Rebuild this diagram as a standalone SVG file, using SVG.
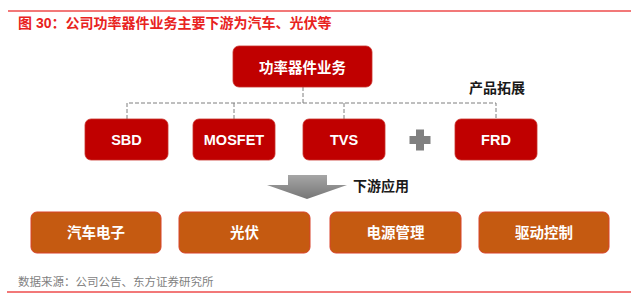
<svg xmlns="http://www.w3.org/2000/svg" width="640" height="306" viewBox="0 0 640 306">
<defs>
<style>
.title{font-family:"Liberation Sans","Noto Sans CJK SC",sans-serif;font-size:14px;font-weight:bold;fill:#e8231e}
.src{font-family:"Noto Sans CJK SC",sans-serif;font-size:11.5px;fill:#7f7f7f}
.red rect{fill:#c00000;stroke:#c8302a;stroke-width:0.8}
.org rect{fill:#c55a11;stroke:#d8432a;stroke-width:1}
.lbl{font-family:"Liberation Sans","Noto Sans CJK SC",sans-serif;font-size:14.5px;font-weight:bold;fill:#ffffff;text-anchor:middle}
.blk{font-family:"Noto Sans CJK SC",sans-serif;font-size:14px;font-weight:bold;fill:#1a1a1a}
.dash{fill:none;stroke:#7f7f7f;stroke-width:1;stroke-dasharray:4 2}
</style>
<linearGradient id="ag" x1="0" y1="0" x2="0" y2="1">
<stop offset="0" stop-color="#a6a6a6"/>
<stop offset="1" stop-color="#767676"/>
</linearGradient>
</defs>
<rect width="640" height="306" fill="#ffffff"/>
<line x1="8" y1="11" x2="631" y2="11" stroke="#ee4b4b" stroke-width="1.6"/>
<text class="title" x="18" y="28">图 30：公司功率器件业务主要下游为汽车、光伏等</text>

<g id="connectors">
<polyline class="dash" points="303,87 303,103"/>
<polyline class="dash" points="127,119 127,103 496,103 496,119"/>
<line class="dash" x1="234" y1="103" x2="234" y2="119"/>
<line class="dash" x1="344" y1="103" x2="344" y2="119"/>
</g>

<g id="root" class="red">
<rect x="233" y="46" width="139" height="41" rx="6"/>
<text class="lbl" x="302.5" y="72.5">功率器件业务</text>
</g>
<g id="sbd" class="red">
<rect x="85" y="119" width="83" height="41" rx="6"/>
<text class="lbl" x="126.5" y="145">SBD</text>
</g>
<g id="mosfet" class="red">
<rect x="193" y="119" width="82" height="41" rx="6"/>
<text class="lbl" x="234" y="145">MOSFET</text>
</g>
<g id="tvs" class="red">
<rect x="303" y="119" width="82" height="41" rx="6"/>
<text class="lbl" x="344" y="145">TVS</text>
</g>
<g id="plus" fill="#808080">
<rect x="409.5" y="136" width="21" height="8"/>
<rect x="416" y="129.5" width="8" height="21"/>
</g>
<g id="frd" class="red">
<rect x="455" y="119" width="82" height="41" rx="6"/>
<text class="lbl" x="496" y="145">FRD</text>
</g>
<g id="expand">
<text class="blk" x="497" y="93" text-anchor="middle">产品拓展</text>
</g>

<g id="arrow">
<polygon points="288,175 327,175 327,185 347,185 307,199 267,185 288,185" fill="url(#ag)"/>
<text class="blk" x="353" y="191">下游应用</text>
</g>

<g id="auto" class="org">
<rect x="31" y="212" width="130" height="41" rx="6"/>
<text class="lbl" x="96" y="238">汽车电子</text>
</g>
<g id="pv" class="org">
<rect x="179" y="212" width="131" height="41" rx="6"/>
<text class="lbl" x="244.5" y="238">光伏</text>
</g>
<g id="power" class="org">
<rect x="330" y="212" width="131" height="41" rx="6"/>
<text class="lbl" x="395.5" y="238">电源管理</text>
</g>
<g id="drive" class="org">
<rect x="479" y="212" width="130" height="41" rx="6"/>
<text class="lbl" x="544" y="238">驱动控制</text>
</g>

<text class="src" x="18" y="285.5">数据来源：公司公告、东方证券研究所</text>
<line x1="7" y1="292" x2="631" y2="292" stroke="#ee4b4b" stroke-width="1.6"/>
</svg>
